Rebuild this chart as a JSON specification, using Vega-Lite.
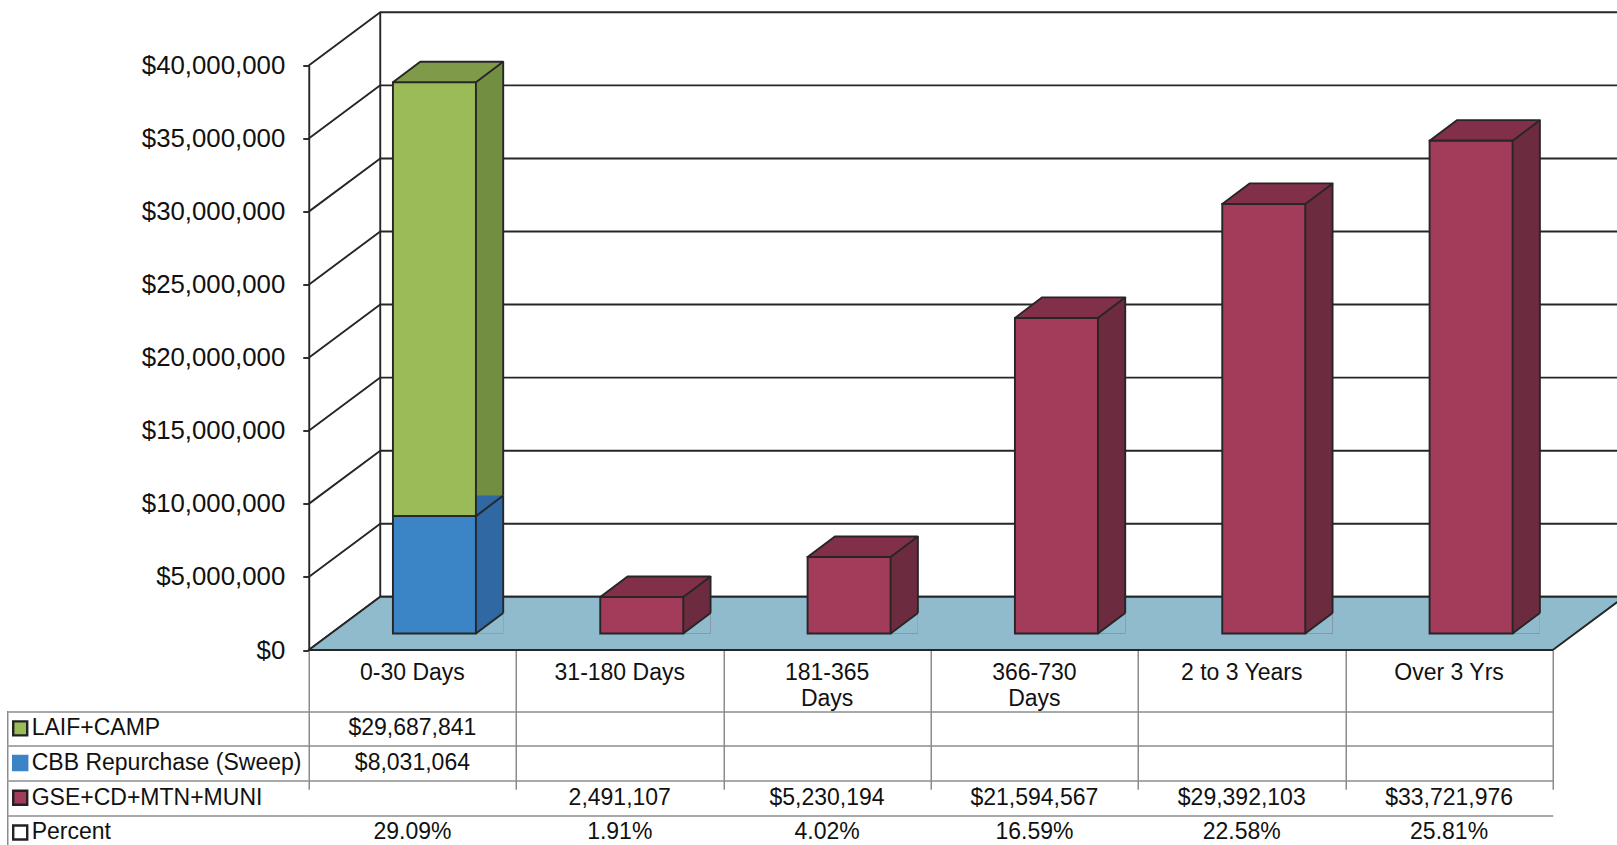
{
  "$schema": "https://vega.github.io/schema/vega-lite/v6.json",
  "background": "white",
  "padding": {"left": 6.75, "top": 10.5, "right": 0, "bottom": 0},
  "spacing": 0,
  "bounds": "flush",
  "config": {
    "view": {"stroke": null, "fill": null},
    "font": "Liberation Sans"
  },
  "datasets": {
    "cells": [
      {"cat": "0-30 Days", "series": "LAIF+CAMP", "value": 29687841, "label": "$29,687,841"},
      {"cat": "0-30 Days", "series": "CBB Repurchase (Sweep)", "value": 8031064, "label": "$8,031,064"},
      {"cat": "31-180 Days", "series": "GSE+CD+MTN+MUNI", "value": 2491107, "label": "2,491,107"},
      {"cat": "181-365 Days", "series": "GSE+CD+MTN+MUNI", "value": 5230194, "label": "$5,230,194"},
      {"cat": "366-730 Days", "series": "GSE+CD+MTN+MUNI", "value": 21594567, "label": "$21,594,567"},
      {"cat": "2 to 3 Years", "series": "GSE+CD+MTN+MUNI", "value": 29392103, "label": "$29,392,103"},
      {"cat": "Over 3 Yrs", "series": "GSE+CD+MTN+MUNI", "value": 33721976, "label": "$33,721,976"},
      {"cat": "0-30 Days", "series": "Percent", "value": 29.09, "label": "29.09%"},
      {"cat": "31-180 Days", "series": "Percent", "value": 1.91, "label": "1.91%"},
      {"cat": "181-365 Days", "series": "Percent", "value": 4.02, "label": "4.02%"},
      {"cat": "366-730 Days", "series": "Percent", "value": 16.59, "label": "16.59%"},
      {"cat": "2 to 3 Years", "series": "Percent", "value": 22.58, "label": "22.58%"},
      {"cat": "Over 3 Yrs", "series": "Percent", "value": 25.81, "label": "25.81%"}
    ],
    "ticks": [
      {"t": 0}, {"t": 5000000}, {"t": 10000000}, {"t": 15000000}, {"t": 20000000},
      {"t": 25000000}, {"t": 30000000}, {"t": 35000000}, {"t": 40000000}
    ],
    "heads": [
      {"series": "LAIF+CAMP"},
      {"series": "CBB Repurchase (Sweep)"},
      {"series": "GSE+CD+MTN+MUNI"},
      {"series": "Percent"}
    ]
  },
  "vconcat": [
    {
      "width": 1244,
      "height": 584.5,
      "layer": [
        {
          "data": {"name": "ticks"},
          "mark": {"type": "point", "shape": "M-103.67,0L-32.17,-53.2L1211.83,-53.2", "size": 4, "filled": false, "stroke": "#262626", "strokeWidth": 1.9, "strokeJoin": "round", "opacity": 1},
          "encoding": {
            "x": {"datum": "0-30 Days", "type": "nominal", "title": null,
                  "scale": {"type": "band", "domain": ["0-30 Days", "31-180 Days", "181-365 Days", "366-730 Days", "2 to 3 Years", "Over 3 Yrs"], "paddingInner": 0, "paddingOuter": 0}},
            "y": {"field": "t", "type": "quantitative", "title": null, "scale": {"domain": [0, 40000000], "nice": false}}
          }
        },
        {
          "data": {"name": "ticks"},
          "transform": [{"filter": "datum.t == 0"}],
          "mark": {"type": "rule", "xOffset": -32.17, "yOffset": -53.2, "y2Offset": -53.2, "color": "#262626", "strokeWidth": 1.9},
          "encoding": {
            "x": {"datum": "0-30 Days", "type": "nominal", "title": null},
            "y": {"field": "t", "type": "quantitative", "title": null},
            "y2": {"datum": 40000000}
          }
        },
        {
          "data": {"name": "ticks"},
          "transform": [{"filter": "datum.t == 0"}],
          "mark": {"type": "point", "shape": "M-103.67,0L1140.33,0L1211.83,-53.2L-32.17,-53.2Z", "size": 4, "filled": true, "fill": "#8fbbcc", "stroke": "#262626", "strokeWidth": 1.9, "strokeJoin": "round", "opacity": 1},
          "encoding": {
            "x": {"datum": "0-30 Days", "type": "nominal", "title": null},
            "y": {"field": "t", "type": "quantitative", "title": null}
          }
        },
        {
          "data": {"name": "cells"},
          "transform": [
            {"filter": "datum.series != 'Percent'"},
            {"stack": "value", "groupby": ["cat"], "sort": [{"field": "series", "order": "ascending"}], "as": ["v0", "v1"]}
          ],
          "mark": {"type": "bar", "width": 27.3, "xOffset": 77.15, "yOffset": -37.1, "y2Offset": -16.5},
          "encoding": {
            "x": {"field": "cat", "type": "nominal", "title": null},
            "y": {"field": "v1", "type": "quantitative", "title": null},
            "y2": {"field": "v0"},
            "fill": {"condition": [
              {"test": "datum.series == 'LAIF+CAMP'", "value": "#728e40"},
              {"test": "datum.series == 'CBB Repurchase (Sweep)'", "value": "#2f68a2"}
            ], "value": "#6d2b3f"}
          }
        },
        {
          "data": {"name": "cells"},
          "transform": [
            {"filter": "datum.series != 'Percent'"},
            {"stack": "value", "groupby": ["cat"], "sort": [{"field": "series", "order": "ascending"}], "as": ["v0", "v1"]}
          ],
          "mark": {"type": "point", "shape": "M0,0L27.3,0L27.3,-20.6Z", "size": 4, "filled": true, "strokeWidth": 0, "opacity": 1, "xOffset": 63.5, "yOffset": -16.5},
          "encoding": {
            "x": {"field": "cat", "type": "nominal", "title": null},
            "y": {"field": "v0", "type": "quantitative", "title": null},
            "fill": {"condition": {"test": "datum.v0 > 0", "value": "#2f68a2"}, "value": "#8fbbcc"}
          }
        },
        {
          "data": {"name": "cells"},
          "transform": [
            {"filter": "datum.series != 'Percent'"},
            {"stack": "value", "groupby": ["cat"], "sort": [{"field": "series", "order": "ascending"}], "as": ["v0", "v1"]}
          ],
          "mark": {"type": "point", "shape": "M0,0L27.3,-20.6", "size": 4, "filled": false, "stroke": "#262626", "strokeWidth": 1.9, "opacity": 1, "xOffset": 63.5, "yOffset": -16.5},
          "encoding": {
            "x": {"field": "cat", "type": "nominal", "title": null},
            "y": {"field": "v0", "type": "quantitative", "title": null}
          }
        },
        {
          "data": {"name": "cells"},
          "transform": [
            {"filter": "datum.series != 'Percent'"},
            {"stack": "value", "groupby": ["cat"], "sort": [{"field": "series", "order": "ascending"}], "as": ["v0", "v1"]}
          ],
          "mark": {"type": "rule", "xOffset": 90.8, "yOffset": -37.1, "y2Offset": -37.1, "color": "#262626", "strokeWidth": 1.9},
          "encoding": {
            "x": {"field": "cat", "type": "nominal", "title": null},
            "y": {"field": "v1", "type": "quantitative", "title": null},
            "y2": {"field": "v0"}
          }
        },
        {
          "data": {"name": "cells"},
          "transform": [
            {"filter": "datum.series != 'Percent'"},
            {"stack": "value", "groupby": ["cat"], "sort": [{"field": "series", "order": "ascending"}], "as": ["v0", "v1"]},
            {"joinaggregate": [{"op": "sum", "field": "value", "as": "total"}], "groupby": ["cat"]},
            {"filter": "datum.v1 == datum.total"}
          ],
          "mark": {"type": "point", "shape": "M0,0L83,0L110.3,-20.6L27.3,-20.6Z", "size": 4, "filled": true, "stroke": "#262626", "strokeWidth": 1.9, "strokeJoin": "round", "opacity": 1, "xOffset": -19.5, "yOffset": -16.5},
          "encoding": {
            "x": {"field": "cat", "type": "nominal", "title": null},
            "y": {"field": "v1", "type": "quantitative", "title": null},
            "fill": {"condition": {"test": "datum.series == 'LAIF+CAMP'", "value": "#7f9b4a"}, "value": "#82304a"}
          }
        },
        {
          "data": {"name": "cells"},
          "transform": [
            {"filter": "datum.series != 'Percent'"},
            {"stack": "value", "groupby": ["cat"], "sort": [{"field": "series", "order": "ascending"}], "as": ["v0", "v1"]}
          ],
          "mark": {"type": "bar", "width": 83, "xOffset": 22, "yOffset": -16.5, "y2Offset": -16.5, "stroke": "#262626", "strokeWidth": 1.9},
          "encoding": {
            "x": {"field": "cat", "type": "nominal", "title": null,
                  "scale": {"type": "band", "domain": ["0-30 Days", "31-180 Days", "181-365 Days", "366-730 Days", "2 to 3 Years", "Over 3 Yrs"], "paddingInner": 0, "paddingOuter": 0},
                  "axis": {"orient": "bottom", "domain": false, "ticks": false, "grid": false, "labelAngle": 0, "labelAlign": "center", "labelFontSize": 23, "labelColor": "#111111", "labelPadding": 11, "labelBaseline": "top", "labelLineHeight": 26, "labelLimit": 300,
                           "labelExpr": "datum.label == '181-365 Days' || datum.label == '366-730 Days' ? split(datum.label, ' ') : datum.label"}},
            "y": {"field": "v1", "type": "quantitative", "title": null,
                  "scale": {"domain": [0, 40000000], "nice": false},
                  "axis": {"values": [0, 5000000, 10000000, 15000000, 20000000, 25000000, 30000000, 35000000, 40000000], "format": "$,.0f", "grid": false, "domain": true, "domainColor": "#262626", "domainWidth": 1.9, "ticks": true, "tickSize": 6, "tickColor": "#262626", "tickWidth": 1.9, "labelFontSize": 25.8, "labelColor": "#111111", "labelPadding": 18}},
            "y2": {"field": "v0"},
            "fill": {"condition": [
              {"test": "datum.series == 'LAIF+CAMP'", "value": "#9bbb59"},
              {"test": "datum.series == 'CBB Repurchase (Sweep)'", "value": "#3b84c5"}
            ], "value": "#a33b5b"}
          }
        }
      ]
    },
    {
      "width": 1244,
      "height": 199.3,
      "layer": [
        {
          "data": {"name": "cells"},
          "mark": {"type": "text", "fontSize": 23, "color": "#111111", "baseline": "middle", "align": "center"},
          "encoding": {
            "x": {"field": "cat", "type": "nominal", "title": null,
                  "scale": {"type": "band", "domain": ["0-30 Days", "31-180 Days", "181-365 Days", "366-730 Days", "2 to 3 Years", "Over 3 Yrs"], "paddingInner": 0, "paddingOuter": 0},
                  "axis": {"grid": true, "tickBand": "extent", "ticks": false, "labels": false, "domain": false, "gridColor": "#8c8c8c", "gridWidth": 1.5, "gridOpacity": 1}},
            "y": {"field": "series", "type": "nominal", "title": null,
                  "scale": {"type": "band", "domain": ["LAIF+CAMP", "CBB Repurchase (Sweep)", "GSE+CD+MTN+MUNI", "Percent"], "range": [60.5, 199.3], "paddingInner": 0, "paddingOuter": 0},
                  "axis": {"grid": true, "tickBand": "extent", "ticks": true, "tickSize": 301, "tickColor": "#8c8c8c", "tickWidth": 1.5, "labels": false, "domain": false, "gridColor": "#8c8c8c", "gridWidth": 1.5, "gridOpacity": 1}},
            "text": {"field": "label"}
          }
        },
        {
          "data": {"name": "heads"},
          "mark": {"type": "text", "fontSize": 23, "color": "#111111", "baseline": "middle", "align": "left", "xOffset": -380.7},
          "encoding": {
            "x": {"datum": "0-30 Days", "type": "nominal", "title": null},
            "y": {"field": "series", "type": "nominal", "title": null},
            "text": {"field": "series"}
          }
        },
        {
          "data": {"name": "heads"},
          "mark": {"type": "point", "shape": "square", "size": 196, "filled": true, "opacity": 1, "strokeWidth": 2.4, "xOffset": -392.2},
          "encoding": {
            "x": {"datum": "0-30 Days", "type": "nominal", "title": null},
            "y": {"field": "series", "type": "nominal", "title": null},
            "fill": {"condition": [
              {"test": "datum.series == 'LAIF+CAMP'", "value": "#9bbb59"},
              {"test": "datum.series == 'CBB Repurchase (Sweep)'", "value": "#3b84c5"},
              {"test": "datum.series == 'GSE+CD+MTN+MUNI'", "value": "#a33b5b"}
            ], "value": "#ffffff"},
            "stroke": {"condition": {"test": "datum.series == 'CBB Repurchase (Sweep)'", "value": "#3b84c5"}, "value": "#222222"}
          }
        },
        {
          "data": {"name": "heads"},
          "mark": {"type": "bar", "width": 1.5, "xOffset": -404.67, "fill": "#8c8c8c"},
          "encoding": {
            "x": {"datum": "0-30 Days", "type": "nominal", "title": null},
            "y": {"field": "series", "type": "nominal", "title": null}
          }
        }
      ]
    }
  ]
}
